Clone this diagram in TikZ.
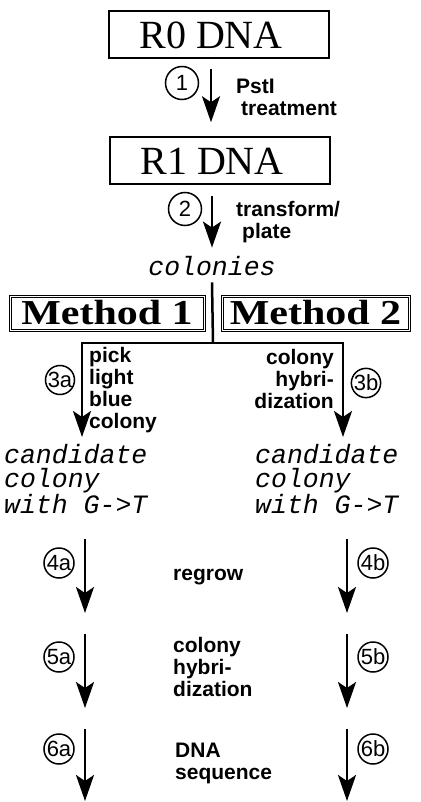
\documentclass[tikz,border=0pt]{standalone}
\usepackage{fontspec}
\setmainfont{Liberation Serif}
\setsansfont{Liberation Sans}
\setmonofont{Liberation Mono}
\newfontfamily\methodfont[FakeStretch=1.2]{Liberation Serif}
\usetikzlibrary{arrows.meta}

\begin{document}
\begin{tikzpicture}[x=1pt, y=-1pt,
  >={Stealth[length=26pt,width=18pt,inset=6pt]},
  flow/.style={->, line width=2.5pt},
  dnabox/.style={draw, line width=1.5pt, minimum width=220pt, minimum height=47pt, inner sep=0pt},
  dnatext/.style={font=\fontsize{40}{40}\selectfont, inner sep=0pt},
  methodbox/.style={draw, double, line width=1pt, double distance=1pt, minimum height=34pt, inner sep=0pt, font=\methodfont\bfseries\fontsize{35}{35}\selectfont},
  stepno/.style={circle, draw, line width=1.5pt, minimum size=33pt, inner sep=0pt, font=\sffamily\fontsize{22}{22}\selectfont},
  steplabel/.style={font=\sffamily\bfseries\fontsize{21}{22}\selectfont, inner sep=0pt},
  monotext/.style={font=\ttfamily\itshape\fontsize{26.5}{24}\selectfont, inner sep=0pt, align=left}]
	\useasboundingbox (0,0) rectangle (420,802);
	
	% Hộp DNA
	\node[dnabox] (r0) at (219,34.5) {};
	\node[dnatext] (r0t) at (211,35) {R0 DNA};
	\node[dnabox] (r1) at (220,160.5) {};
	\node[dnatext] (r1t) at (212,161) {R1 DNA};
	\node[monotext, anchor=base] (col) at (212,275) {colonies};
	
	% Bước 1 và 2
	\draw[flow] ([xshift=-8pt,yshift=-10pt]r0.south) -- ([xshift=-9pt,yshift=14pt]r1.north);
	\node[stepno] (s1) at (182,83) {1};
	\node[steplabel, anchor=west, align=left] (l1) at (236,97) {PstI\\\hspace*{5pt}treatment};
	\draw[flow] ([xshift=-8pt,yshift=-11pt]r1.south) -- ([yshift=8pt]col.north);
	\node[stepno] (s2) at (185,209) {2};
	\node[steplabel, anchor=west, align=left] (l2) at (236,222) {transform/\\\hspace*{6pt}plate};
	
	% Hai phương pháp
	\node[methodbox, minimum width=194pt] (m1) at (107,313) {Method 1};
	\node[methodbox, minimum width=187pt] (m2) at (315.5,313) {Method 2};
	\coordinate (split) at (213,343);
	\coordinate (end3a) at (82,437);
	\coordinate (end3b) at (343,437);
	\draw[line width=2.5pt] ([yshift=-7pt]col.south) -- (split);
	\draw[flow] (split) -| (end3a);
	\draw[flow] (split) -| (end3b);
	\node[stepno, minimum size=28pt] (s3a) at (60,380) {3a};
	\node[steplabel, anchor=west, align=left] (l3a) at (89,390) {pick\\light\\blue\\colony};
	\node[stepno, minimum size=28pt] (s3b) at (366,383) {3b};
	\node[steplabel, anchor=east, align=right] (l3b) at (334,379) {colony\\hybri-\\dization};
	
	% Khuẩn lạc ứng viên
	\node[monotext, anchor=west] (cand1) at (4,479) {candidate\\colony\\with G->T};
	\node[monotext, anchor=west] (cand2) at (255,479) {candidate\\colony\\with G->T};
	
	% Bước 4, 5, 6
	\foreach \n/\yt/\yb/\yc in {4/539/613/563, 5/634/708/657, 6/729/801/749}{
		\coordinate (top\n a) at (85,\yt);
		\coordinate (end\n a) at (85,\yb);
		\coordinate (top\n b) at (347,\yt);
		\coordinate (end\n b) at (347,\yb);
		\draw[flow] (top\n a) -- (end\n a);
		\draw[flow] (top\n b) -- (end\n b);
		\node[stepno, minimum size=30pt] (s\n a) at (59,\yc) {\n a};
		\node[stepno, minimum size=30pt] (s\n b) at (373,\yc) {\n b};
	}
	\node[steplabel, anchor=west] (t4) at (173,577) {regrow};
	\node[steplabel, anchor=west, align=left] (t5) at (173,667) {colony\\hybri-\\dization};
	\node[steplabel, anchor=west, align=left] (t6) at (175,763) {DNA\\sequence};
\end{tikzpicture}
\end{document}
